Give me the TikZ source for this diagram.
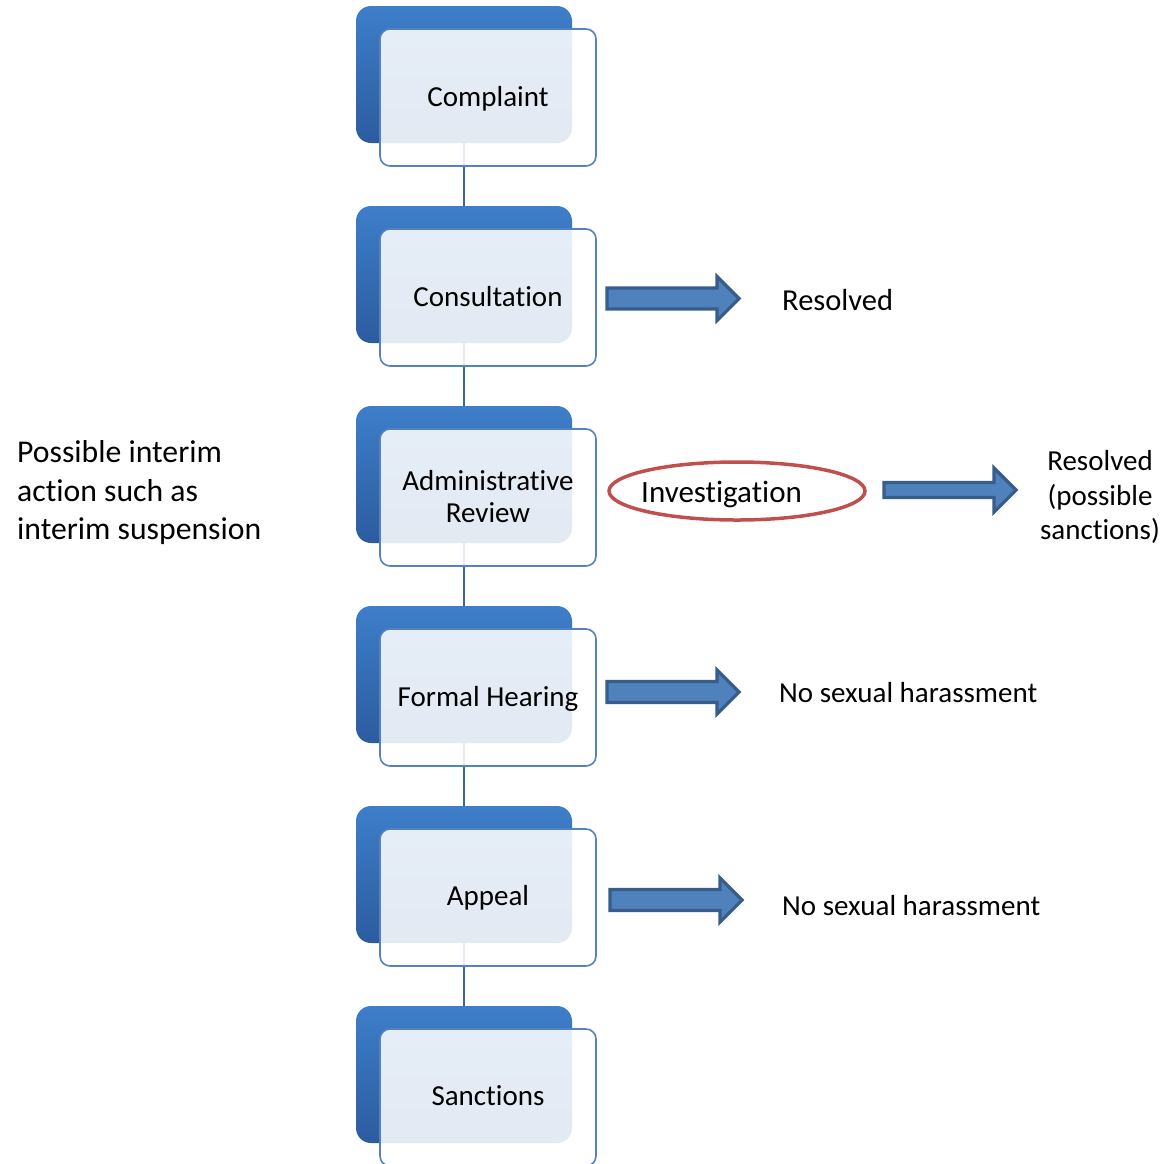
\documentclass[tikz,border=0pt]{standalone}
\usepackage{fontspec}
\setmainfont{Carlito}[Ligatures=CommonOff]
\usetikzlibrary{shapes.geometric}
\definecolor{backtop}{RGB}{62,126,202}
\definecolor{backbot}{RGB}{44,92,158}
\definecolor{frontline}{RGB}{84,130,190}
\definecolor{linkcol}{RGB}{62,100,160}
\definecolor{arrfill}{RGB}{79,129,189}
\definecolor{arrline}{RGB}{56,93,138}
\definecolor{ovalcol}{RGB}{192,80,77}
\begin{document}
\begin{tikzpicture}[x=1pt,y=-1pt,
  backbox/.style={rectangle, rounded corners=15pt, minimum width=216pt, minimum height=137pt, inner sep=0pt, top color=backtop, bottom color=backbot, draw=none},
  frontbox/.style={rectangle, rounded corners=10pt, minimum width=216pt, minimum height=137pt, inner sep=0pt, draw=frontline, line width=1.6pt, fill=white, fill opacity=0.87},
  boxtext/.style={anchor=base, inner sep=0pt, font=\fontsize{29}{32}\selectfont, align=center},
  sidetext/.style={inner sep=0pt, font=\fontsize{29}{34.5}\selectfont},
  link/.style={draw=linkcol, line width=2pt},
  arrowstyle/.style={fill=arrfill, draw=arrline, line width=3.2pt, line join=miter},
  bigarrow/.pic={\path[arrowstyle] (0,-#1) -- (110,-#1) -- (110,-22) -- (132,0) -- (110,22) -- (110,#1) -- (0,#1) -- cycle;}
]
\useasboundingbox (0,0) rectangle (1164,1163);
% back boxes
\node[backbox] (b1) at (464,74.5) {};
\node[backbox] (b2) at (464,274.5) {};
\node[backbox] (b3) at (464,474.5) {};
\node[backbox] (b4) at (464,674.5) {};
\node[backbox] (b5) at (464,874.5) {};
\node[backbox] (b6) at (464,1074.5) {};
% connectors
\draw[link] (b1.south) -- (b2.north);
\draw[link] (b2.south) -- (b3.north);
\draw[link] (b3.south) -- (b4.north);
\draw[link] (b4.south) -- (b5.north);
\draw[link] (b5.south) -- (b6.north);
% front boxes
\node[frontbox] (f1) at (488,97.5) {};
\node[frontbox] (f2) at (488,297.5) {};
\node[frontbox] (f3) at (488,497.5) {};
\node[frontbox] (f4) at (488,697.5) {};
\node[frontbox] (f5) at (488,897.5) {};
\node[frontbox] (f6) at (488,1097.5) {};
% box texts
\node[boxtext] (t1) at (488,106) {Complaint};
\node[boxtext] (t2) at (488,306) {Consultation};
\node[boxtext, anchor=center] (t3) at (488,497) {Administrative\\Review};
\node[boxtext] (t4) at (488,706) {Formal Hearing};
\node[boxtext] (t5) at (488,905) {Appeal};
\node[boxtext] (t6) at (488,1105) {Sanctions};
% left note
\node[inner sep=0pt, anchor=west, align=left, font=\fontsize{31.7}{38.5}\selectfont] (note) at (17,493) {Possible interim\\action such as\\interim suspension};
% arrows
\pic (a1) at (607,298.5) {bigarrow=10.5};
\pic (a2) at (884,490) {bigarrow=7.5};
\pic (a3) at (607,692) {bigarrow=10.5};
\pic (a4) at (610,900) {bigarrow=10.5};
% investigation
\node[ellipse, draw=ovalcol, line width=3.5pt, minimum width=256pt, minimum height=58pt, inner sep=0pt] (inv) at (737,491) {};
\node[inner sep=0pt, anchor=base west, font=\fontsize{31}{36}\selectfont] (invt) at (641,502) {Investigation};
% outcomes
\node[inner sep=0pt, anchor=base west, font=\fontsize{30.5}{36}\selectfont] (r1) at (782,310) {Resolved};
\node[sidetext, align=center] (r2) at (1100,497) {Resolved\\(possible\\sanctions)};
\node[sidetext, anchor=base west] (r3) at (779,702) {No sexual harassment};
\node[sidetext, anchor=base west] (r4) at (782,915) {No sexual harassment};
\end{tikzpicture}
\end{document}
